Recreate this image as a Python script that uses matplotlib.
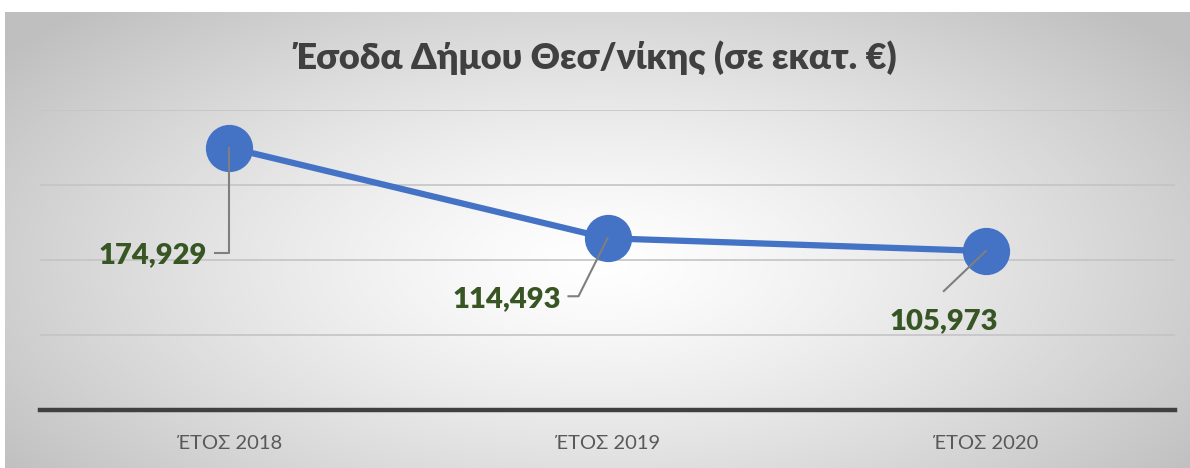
import numpy as np
import matplotlib
matplotlib.use("Agg")
import matplotlib.pyplot as plt
from matplotlib.lines import Line2D
from matplotlib.transforms import IdentityTransform

categories = ["ΈΤΟΣ 2018", "ΈΤΟΣ 2019", "ΈΤΟΣ 2020"]
values = [174929, 114493, 105973]
value_labels = ["174,929", "114,493", "105,973"]
title = "Έσοδα Δήμου Θεσ/νίκης (σε εκατ. €)"

W, H = 1190, 468
fig = plt.figure(figsize=(W / 100, H / 100), dpi=100)
fig.patch.set_facecolor("white")

# radial gradient background
bg = fig.add_axes([5 / W, 0, (W - 5) / W, (H - 12) / H])
ny, nx = 300, 800
yy, xx = np.mgrid[0:ny, 0:nx]
cx, cy = nx * 0.5, ny * 0.55
r = np.sqrt(((xx - cx) / (nx * 0.5)) ** 2 + ((yy - cy) / (ny * 0.62)) ** 2)
r = np.clip(r / 1.25, 0, 1)
lev = 1.0 - 0.25 * r ** 1.3
img = np.dstack([lev, lev, lev])
bg.imshow(img, aspect="auto", extent=[0, 1, 0, 1], interpolation="bilinear")
bg.set_axis_off()

ax = fig.add_axes([40 / W, 1 - 410 / H, 1135 / W, 300 / H])
ax.patch.set_alpha(0)
x = np.arange(len(values))
ax.set_xlim(-0.5, len(values) - 0.5)
ax.set_ylim(0, 200000)
ax.set_yticks([50000, 100000, 150000, 200000])
ax.yaxis.grid(True, color="#c4c4c4", linewidth=1.2)
ax.set_axisbelow(True)
for s in ["top", "right", "left"]:
    ax.spines[s].set_visible(False)
ax.spines["bottom"].set_color("#404040")
ax.spines["bottom"].set_linewidth(3.2)
ax.tick_params(axis="y", length=0, labelleft=False)
ax.tick_params(axis="x", length=0, pad=18, labelsize=14.5, labelcolor="#595959")
ax.set_xticks(x)
ax.set_xticklabels(categories, fontfamily="Lato")

ax.plot(x, values, color="#4472C4", linewidth=4.5, marker="o",
        markersize=33, markerfacecolor="#4472C4", markeredgecolor="#4472C4",
        solid_capstyle="round", zorder=3)

fig.text(0.5, 1 - 58 / H, title, ha="center", va="center", fontsize=26,
         fontweight="heavy", color="#404040", fontfamily="Lato")

# data labels with leader lines (pixel offsets relative to the point)
label_offsets = [(-76, -108), (-101, -61), (-42, -70)]
leader_paths = [
    [(0, 0), (0, -105), (-14, -105)],
    [(0, 0), (-29, -58), (-39, -58)],
    [(0, 0), (-42, -40)],
]
fig.canvas.draw()
for xi, v, lab, off, path in zip(x, values, value_labels, label_offsets, leader_paths):
    px, py = ax.transData.transform((xi, v))
    ax.annotate(lab, xy=(xi, v), xytext=off, textcoords="offset pixels",
                ha="center", va="center", fontsize=21, fontweight="heavy",
                color="#375623", fontfamily="Lato", zorder=5)
    xs = [px + p[0] for p in path]
    ys = [py + p[1] for p in path]
    fig.add_artist(Line2D(xs, ys, transform=IdentityTransform(),
                          color="#7f7f7f", linewidth=1.5, zorder=4))

fig.savefig("out.png", dpi=100)
